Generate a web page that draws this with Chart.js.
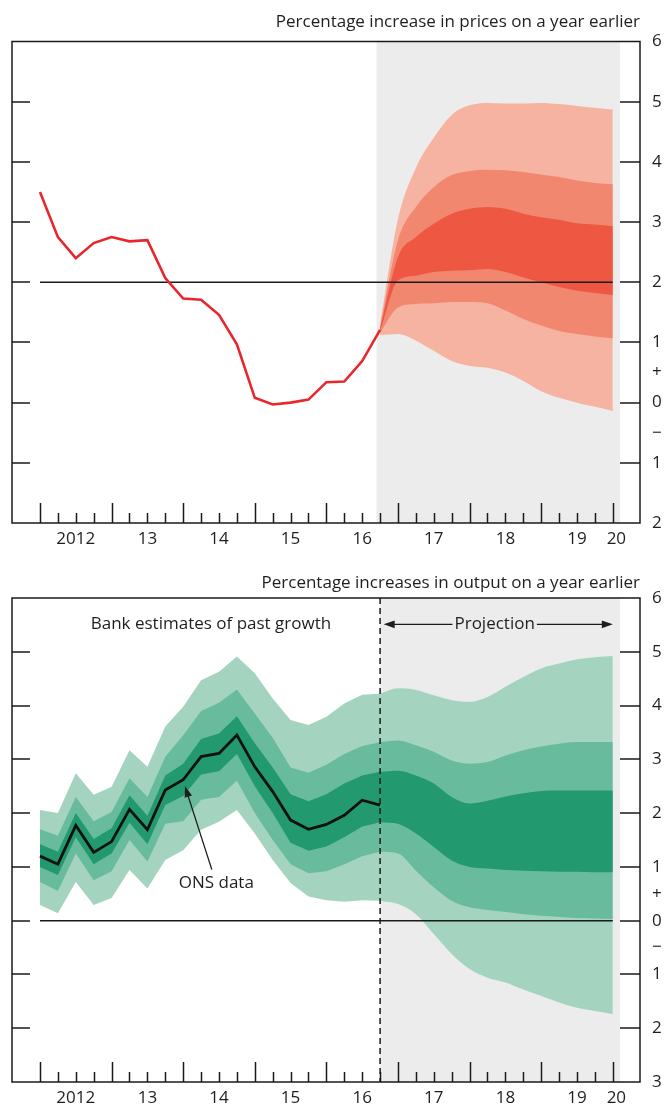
<!DOCTYPE html>
<html>
<head>
<meta charset="utf-8">
<script src="https://cdn.jsdelivr.net/npm/chart.js@4.4.0/dist/chart.umd.min.js"></script>
<style>
  html, body { margin: 0; padding: 0; background: #fff; }
  .box { position: relative; width: 667px; }
  #top { height: 555px; }
  #bottom { height: 552px; }
</style>
</head>
<body>
<div class="box" id="top"><canvas id="cpi"></canvas></div>
<div class="box" id="bottom"><canvas id="gdp"></canvas></div>
<script>
// quarters are counted from 2012 Q1 = 0
const yearLabels = ['2012', '13', '14', '15', '16', '17', '18', '19', '20'];
const yearLabelPos = [2, 6, 10, 14, 18, 22, 26, 30, 32.2];

// CPI inflation, top chart
const cpiTicks = [6, 5, 4, 3, 2, 1, 0, -1, -2];
const cpiTarget = 2;
const cpiQuarters = [0, 1, 2, 3, 4, 5, 6, 7, 8, 9, 10, 11, 12, 13, 14, 15, 16, 17, 18, 19];
const cpiData = [3.5, 2.75, 2.4, 2.65, 2.75, 2.68, 2.7, 2.07, 1.73, 1.71, 1.46, 0.97, 0.08, -0.03, 0.0, 0.05, 0.34, 0.35, 0.69, 1.21];

const cpiFanQuarters = [19, 20, 21, 22, 23, 24, 25, 26, 27, 28, 29, 30, 31, 32];
const cpiOuterUp = [1.3, 3.05, 3.9, 4.4, 4.78, 4.94, 4.98, 4.97, 4.97, 4.98, 4.96, 4.93, 4.9, 4.87];
const cpiMidUp   = [1.26, 2.7, 3.25, 3.58, 3.78, 3.85, 3.87, 3.86, 3.83, 3.79, 3.75, 3.69, 3.65, 3.63];
const cpiDarkUp  = [1.23, 2.42, 2.75, 2.97, 3.14, 3.22, 3.25, 3.22, 3.14, 3.08, 3.04, 2.98, 2.96, 2.93];
const cpiDarkLo  = [1.19, 2.03, 2.11, 2.17, 2.19, 2.2, 2.22, 2.17, 2.08, 2.0, 1.92, 1.86, 1.82, 1.79];
const cpiMidLo   = [1.16, 1.58, 1.64, 1.65, 1.67, 1.67, 1.65, 1.53, 1.39, 1.28, 1.19, 1.14, 1.1, 1.07];
const cpiOuterLo = [1.12, 1.14, 1.03, 0.86, 0.69, 0.61, 0.58, 0.5, 0.36, 0.19, 0.08, 0.0, -0.07, -0.14];

// GDP growth, bottom chart
const gdpTicks = [6, 5, 4, 3, 2, 1, 0, -1, -2, -3];
const gdpZero = 0;
const gdpQuarters = [0, 1, 2, 3, 4, 5, 6, 7, 8, 9, 10, 11, 12, 13, 14, 15, 16, 17, 18, 19];
const gdpData = [1.2, 1.05, 1.77, 1.27, 1.47, 2.07, 1.69, 2.43, 2.62, 3.05, 3.11, 3.45, 2.86, 2.4, 1.87, 1.7, 1.79, 1.96, 2.24, 2.15];

const gdpPastOuterUp = [2.06, 2.0, 2.74, 2.34, 2.49, 3.17, 2.86, 3.61, 3.98, 4.47, 4.63, 4.91, 4.6, 4.13, 3.73, 3.64, 3.79, 4.04, 4.2, 4.22];
const gdpPastMidUp   = [1.7, 1.58, 2.3, 1.85, 2.02, 2.65, 2.3, 3.05, 3.45, 3.9, 4.05, 4.3, 3.85, 3.4, 2.85, 2.75, 2.9, 3.1, 3.25, 3.32];
const gdpPastDarkUp  = [1.42, 1.28, 2.0, 1.52, 1.72, 2.33, 1.95, 2.7, 2.92, 3.38, 3.48, 3.8, 3.3, 2.85, 2.35, 2.22, 2.35, 2.55, 2.7, 2.77];
const gdpPastDarkLo  = [1.0, 0.85, 1.55, 1.05, 1.25, 1.82, 1.42, 2.15, 2.32, 2.72, 2.78, 3.1, 2.5, 2.0, 1.45, 1.3, 1.38, 1.55, 1.75, 1.83];
const gdpPastMidLo   = [0.72, 0.55, 1.25, 0.75, 0.92, 1.5, 1.1, 1.8, 1.85, 2.25, 2.3, 2.6, 2.0, 1.5, 1.05, 0.88, 0.92, 1.05, 1.2, 1.28];
const gdpPastOuterLo = [0.29, 0.14, 0.72, 0.29, 0.42, 0.94, 0.6, 1.13, 1.31, 1.69, 1.84, 2.06, 1.62, 1.13, 0.7, 0.45, 0.38, 0.35, 0.38, 0.37];

const gdpFanQuarters = [19, 20, 21, 22, 23, 24, 25, 26, 27, 28, 29, 30, 31, 32];
const gdpOuterUp = [4.22, 4.32, 4.29, 4.19, 4.1, 4.07, 4.16, 4.35, 4.53, 4.69, 4.78, 4.86, 4.9, 4.92];
const gdpMidUp   = [3.32, 3.35, 3.26, 3.14, 2.98, 2.92, 2.95, 3.07, 3.17, 3.24, 3.29, 3.32, 3.32, 3.32];
const gdpDarkUp  = [2.77, 2.79, 2.7, 2.55, 2.3, 2.18, 2.23, 2.31, 2.37, 2.41, 2.42, 2.42, 2.42, 2.42];
const gdpDarkLo  = [1.83, 1.8, 1.62, 1.37, 1.12, 1.0, 0.97, 0.94, 0.93, 0.92, 0.91, 0.91, 0.9, 0.9];
const gdpMidLo   = [1.28, 1.25, 0.93, 0.62, 0.37, 0.25, 0.2, 0.16, 0.12, 0.09, 0.07, 0.05, 0.04, 0.03];
const gdpOuterLo = [0.37, 0.31, 0.12, -0.25, -0.62, -0.9, -1.06, -1.15, -1.28, -1.4, -1.52, -1.62, -1.68, -1.74];

const signTicks = [0.5, -0.5];

const FONT = '"Open Sans", sans-serif';
Chart.defaults.font.family = FONT;
Chart.defaults.color = '#1e1e1e';

const red = { light: '#f7b3a1', mid: '#f2876f', dark: '#ee5843', line: '#e8262b' };
const green = { light: '#a4d4c0', mid: '#69bb9d', dark: '#22996f' };

function pts(xs, ys) {
  return xs.map((q, i) => ({ x: q, y: ys[i] }));
}

// three nested bands, light drawn first
function fan(start, xs, bands, col, smooth) {
  const base = { pointRadius: 0, borderWidth: 0, tension: 0 };
  if (smooth) base.cubicInterpolationMode = 'monotone';
  return [
    { ...base, data: pts(xs, bands[2]), fill: start + 1, backgroundColor: col.dark },
    { ...base, data: pts(xs, bands[3]), fill: false },
    { ...base, data: pts(xs, bands[1]), fill: start + 3, backgroundColor: col.mid },
    { ...base, data: pts(xs, bands[4]), fill: false },
    { ...base, data: pts(xs, bands[0]), fill: start + 5, backgroundColor: col.light },
    { ...base, data: pts(xs, bands[5]), fill: false }
  ];
}

function arrow(ctx, x1, y1, x2, y2, head) {
  const a = Math.atan2(y2 - y1, x2 - x1);
  const c = Math.cos(a), s = Math.sin(a);
  ctx.beginPath();
  ctx.moveTo(x1, y1);
  ctx.lineTo(x2 - c * head * 0.8, y2 - s * head * 0.8);
  ctx.stroke();
  ctx.beginPath();
  ctx.moveTo(x2, y2);
  ctx.lineTo(x2 - head * c + head * 0.35 * s, y2 - head * s - head * 0.35 * c);
  ctx.lineTo(x2 - head * c - head * 0.35 * s, y2 - head * s + head * 0.35 * c);
  ctx.closePath();
  ctx.fill();
}

const fanFrame = {
  id: 'fanFrame',
  beforeDatasetsDraw(chart, args, o) {
    const { ctx, chartArea: a, scales: { x } } = chart;
    const l = x.getPixelForValue(o.shadeFrom), r = x.getPixelForValue(o.shadeTo);
    ctx.save();
    ctx.fillStyle = '#ececec';
    ctx.fillRect(l, a.top, r - l, a.bottom - a.top);
    ctx.restore();
  },
  afterDatasetsDraw(chart, args, o) {
    const { ctx, chartArea: a, scales: { x, y } } = chart;
    ctx.save();
    ctx.strokeStyle = '#1a1a1a';
    ctx.fillStyle = '#1e1e1e';
    ctx.lineWidth = 1.5;
    ctx.strokeRect(a.left, a.top, a.right - a.left, a.bottom - a.top);

    ctx.beginPath();
    y.ticks.forEach(t => {
      if (!Number.isInteger(t.value) || t.value <= y.min || t.value >= y.max) return;
      const py = Math.round(y.getPixelForValue(t.value));
      ctx.moveTo(a.left, py); ctx.lineTo(a.left + 18, py);
      ctx.moveTo(a.right - 20, py); ctx.lineTo(a.right, py);
    });
    o.quarters.forEach(q => {
      const px = Math.round(x.getPixelForValue(q)) + 0.5;
      ctx.moveTo(px, a.bottom); ctx.lineTo(px, a.bottom - (q % 4 === 0 ? 20 : 10));
    });
    ctx.stroke();

    if (o.divider !== undefined) {
      const px = x.getPixelForValue(o.divider);
      ctx.setLineDash([6, 4]);
      ctx.beginPath();
      ctx.moveTo(px, a.top); ctx.lineTo(px, a.bottom);
      ctx.stroke();
      ctx.setLineDash([]);
    }

    // title sits right-aligned above the frame
    ctx.font = '17px ' + FONT;
    ctx.textAlign = 'right';
    ctx.textBaseline = 'middle';
    ctx.fillText(o.title, a.right, a.top - o.titleGap);

    ctx.textAlign = 'center';
    (o.notes || []).forEach(n => {
      ctx.fillText(n.text, x.getPixelForValue(n.x), y.getPixelForValue(n.y));
    });
    ctx.lineWidth = 1.3;
    (o.arrows || []).forEach(r => {
      arrow(ctx, x.getPixelForValue(r.from[0]), y.getPixelForValue(r.from[1]),
        x.getPixelForValue(r.to[0]), y.getPixelForValue(r.to[1]), 11);
    });
    if (o.span) {
      const s = o.span;
      const cx = x.getPixelForValue(s.at), cy = y.getPixelForValue(s.y);
      const w = ctx.measureText(s.text).width / 2 + 2;
      ctx.fillText(s.text, cx, cy);
      arrow(ctx, cx - w, cy, x.getPixelForValue(s.from), cy, 11);
      arrow(ctx, cx + w, cy, x.getPixelForValue(s.to), cy, 11);
    }
    ctx.restore();
  }
};

function scales(ticks, xHeight) {
  return {
    x: {
      type: 'linear', min: -1.564, max: 33.52,
      grid: { display: false, drawTicks: false }, border: { display: false },
      afterBuildTicks: s => { s.ticks = yearLabelPos.map(v => ({ value: v })); },
      afterFit: s => { s.height = xHeight; },
      ticks: { autoSkip: false, maxRotation: 0, padding: 6, font: { size: 17 }, callback: (v, i) => yearLabels[i] }
    },
    y: {
      type: 'linear', position: 'right', min: ticks[ticks.length - 1], max: ticks[0],
      grid: { display: false, drawTicks: false }, border: { display: false },
      afterBuildTicks: s => { s.ticks = ticks.concat(signTicks).map(v => ({ value: v })); },
      afterFit: s => { s.width = 27; },
      ticks: {
        autoSkip: false, padding: 12, font: { size: 17 },
        callback: v => v === 0.5 ? '+' : v === -0.5 ? '\u2212' : String(Math.abs(v))
      }
    }
  };
}

function options(top, ticks, xHeight, frame) {
  return {
    responsive: true, maintainAspectRatio: false, animation: false,
    layout: { padding: { left: 12, right: 0, top: top, bottom: 0 } },
    plugins: { legend: { display: false }, tooltip: { enabled: false }, fanFrame: frame },
    scales: scales(ticks, xHeight)
  };
}

const cpiAll = cpiQuarters.concat(cpiFanQuarters.slice(1));
new Chart(document.getElementById('cpi'), {
  type: 'line',
  data: {
    datasets: [
      { data: pts(cpiQuarters, cpiData), borderColor: red.line, borderWidth: 2.6, pointRadius: 0, fill: false, tension: 0 },
      { data: [{ x: cpiAll[0], y: cpiTarget }, { x: cpiAll[cpiAll.length - 1], y: cpiTarget }], borderColor: '#1a1a1a', borderWidth: 1.5, pointRadius: 0, fill: false },
      ...fan(2, cpiFanQuarters, [cpiOuterUp, cpiMidUp, cpiDarkUp, cpiDarkLo, cpiMidLo, cpiOuterLo], red, true)
    ]
  },
  options: options(41.5, cpiTicks, 32, {
    title: 'Percentage increase in prices on a year earlier', titleGap: 19.5,
    shadeFrom: 18.8, shadeTo: 32.4, quarters: cpiAll
  }),
  plugins: [fanFrame]
});

const gdpAll = gdpQuarters.concat(gdpFanQuarters.slice(1));
new Chart(document.getElementById('gdp'), {
  type: 'line',
  data: {
    datasets: [
      { data: pts(gdpQuarters, gdpData), borderColor: '#111', borderWidth: 2.8, pointRadius: 0, fill: false, tension: 0 },
      { data: [{ x: gdpAll[0], y: gdpZero }, { x: gdpAll[gdpAll.length - 1], y: gdpZero }], borderColor: '#1a1a1a', borderWidth: 1.5, pointRadius: 0, fill: false },
      ...fan(2, gdpFanQuarters, [gdpOuterUp, gdpMidUp, gdpDarkUp, gdpDarkLo, gdpMidLo, gdpOuterLo], green, true),
      ...fan(8, gdpQuarters, [gdpPastOuterUp, gdpPastMidUp, gdpPastDarkUp, gdpPastDarkLo, gdpPastMidLo, gdpPastOuterLo], green, false)
    ]
  },
  options: options(43, gdpTicks, 25, {
    title: 'Percentage increases in output on a year earlier', titleGap: 15,
    shadeFrom: 19, shadeTo: 32.4, quarters: gdpAll, divider: 19,
    notes: [{ text: 'Bank estimates of past growth', x: 9.55, y: 5.51 }, { text: 'ONS data', x: 9.85, y: 0.7 }],
    arrows: [{ from: [9.6, 0.95], to: [8.1, 2.5] }],
    span: { text: 'Projection', at: 25.4, y: 5.51, from: 19.2, to: 32.0 }
  }),
  plugins: [fanFrame]
});
</script>
</body>
</html>
